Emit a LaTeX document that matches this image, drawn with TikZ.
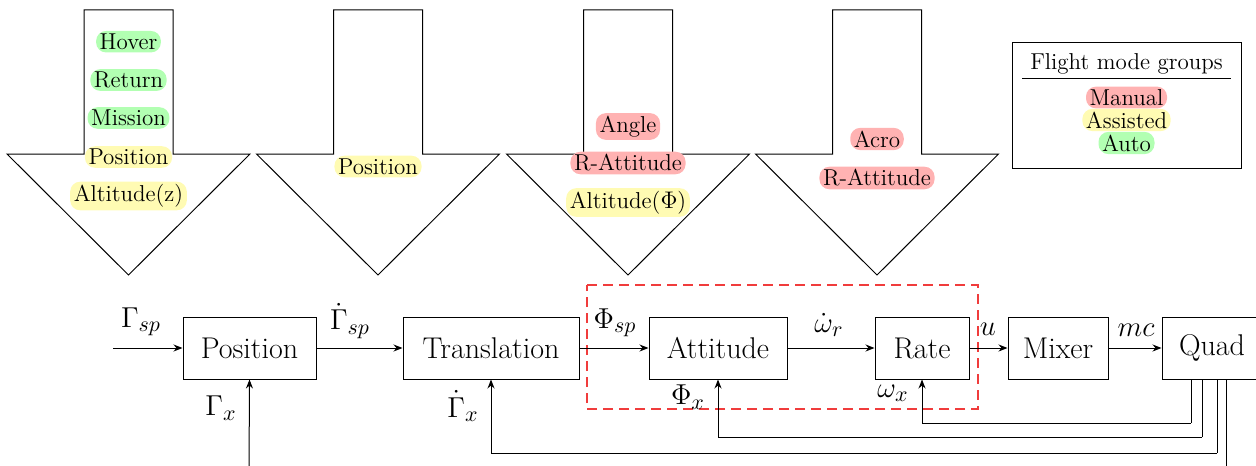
\documentclass[tikz,border=0pt]{standalone}
\usepackage{fontspec}
\usetikzlibrary{arrows.meta}
\definecolor{grpred}{RGB}{240,60,60}
\begin{document}
\begin{tikzpicture}[x=0.5pt,y=-0.5pt,
  hl/.style={rounded corners=5pt, inner xsep=1.8pt, inner ysep=1.4pt, font=\fontsize{11.5}{13}\selectfont},
  man/.style={hl, fill=red!30},
  ass/.style={hl, fill=yellow!30},
  aut/.style={hl, fill=green!30},
  blk/.style={draw, line width=0.5pt, minimum height=31pt, inner sep=0pt, font=\fontsize{15}{18}\selectfont},
  lbl/.style={inner sep=0pt, font=\fontsize{15}{18}\selectfont},
  sig/.style={-{Stealth[length=4.5pt,width=3.5pt]}, line width=0.5pt},
  fbl/.style={line width=0.5pt},
  modearrow/.style={draw, line width=0.5pt},
  grpbox/.style={draw=grpred, dash pattern=on 5pt off 3pt, line width=0.6pt},
]
\useasboundingbox (0,0) rectangle (1256,465);

% mode arrows
\foreach \c in {128.5,378,628,877}
  \draw[modearrow] (\c-44.5,10) -- (\c+44.5,10) -- (\c+44.5,154) -- (\c+121.5,154)
     -- (\c,275) -- (\c-121.5,154) -- (\c-44.5,154) -- cycle;

% arrow 1
\node[aut] (hover) at (128.5,41.7) {Hover};
\node[aut] (return) at (128.5,80) {Return};
\node[aut] (mission) at (128.5,118) {Mission};
\node[ass] (pos1) at (128.5,157) {Position};
\node[ass] (altz) at (128.5,196) {Altitude(z)};
% arrow 2
\node[ass] (pos2) at (378,166.5) {Position};
% arrow 3
\node[man] (angle) at (628,126.5) {Angle};
\node[man] (ratt3) at (628,163) {R-Attitude};
\node[ass] (altphi) at (628,202.5) {Altitude($\Phi$)};
% arrow 4
\node[man] (acro) at (877,139) {Acro};
\node[man] (ratt4) at (877,178) {R-Attitude};

% legend
\draw[line width=0.5pt] (1012,43) rectangle (1241,168);
\node[inner sep=0pt, font=\fontsize{11.5}{13}\selectfont] (lgtitle) at (1126.5,64) {Flight mode groups};
\draw[line width=0.5pt] (1022,79) -- (1231,79);
\node[man] (lgman) at (1126.5,97.5) {Manual};
\node[ass] (lgass) at (1126.5,120) {Assisted};
\node[aut] (lgaut) at (1126.5,143) {Auto};

% dashed group
\draw[grpbox] (587,285) -- (978,285) -- (978,409) -- (587,409) -- cycle;

% blocks
\node[blk, minimum width=66.5pt] (position) at (249.5,348) {Position};
\node[blk, minimum width=88pt] (translation) at (491,348) {Translation};
\node[blk, minimum width=69pt] (attitude) at (718,348) {Attitude};
\node[blk, minimum width=47pt] (rate) at (922,348) {Rate};
\node[blk, minimum width=50pt] (mixer) at (1058,348) {Mixer};
\node[blk, minimum width=50pt] (quad) at (1212,348) {Quad};

% forward signals
\coordinate (in) at (113,348);
\draw[sig] (in) -- (position);
\draw[sig] (position) -- (translation);
\draw[sig] (translation) -- (attitude);
\draw[sig] (attitude) -- (rate);
\draw[sig] (rate) -- (mixer);
\draw[sig] (mixer) -- (quad);

\node[lbl] (lgsp) at (141,322) {$\Gamma_{sp}$};
\node[lbl] (ldgsp) at (350,321) {$\dot\Gamma_{sp}$};
\node[lbl] (lphisp) at (615,323) {$\Phi_{sp}$};
\node[lbl] (lomr) at (829,325) {$\dot\omega_r$};
\node[lbl] (lu) at (988,329) {$u$};
\node[lbl] (lmc) at (1136,330) {$mc$};

% feedback
\coordinate (f1) at (1191,423);
\coordinate (f2) at (1202,437);
\coordinate (f3) at (1217,453);
\coordinate (f4) at (1226,472);
\coordinate (fpos) at (249,472);
\draw[fbl] (quad.south -| f1) -- (f1);
\draw[sig] (f1) -| (rate.south);
\draw[fbl] (quad.south -| f2) -- (f2);
\draw[sig] (f2) -| (attitude.south);
\draw[fbl] (quad.south -| f3) -- (f3);
\draw[sig] (f3) -| (translation.south);
\draw[fbl] (quad.south -| f4) -- (f4);
\draw[sig] (fpos) -- (position.south);

\node[lbl] (lgx) at (221,408) {$\Gamma_x$};
\node[lbl] (ldgx) at (463,406) {$\dot\Gamma_x$};
\node[lbl] (lphix) at (688,397) {$\Phi_x$};
\node[lbl] (lomx) at (893,393) {$\omega_x$};
\end{tikzpicture}
\end{document}
